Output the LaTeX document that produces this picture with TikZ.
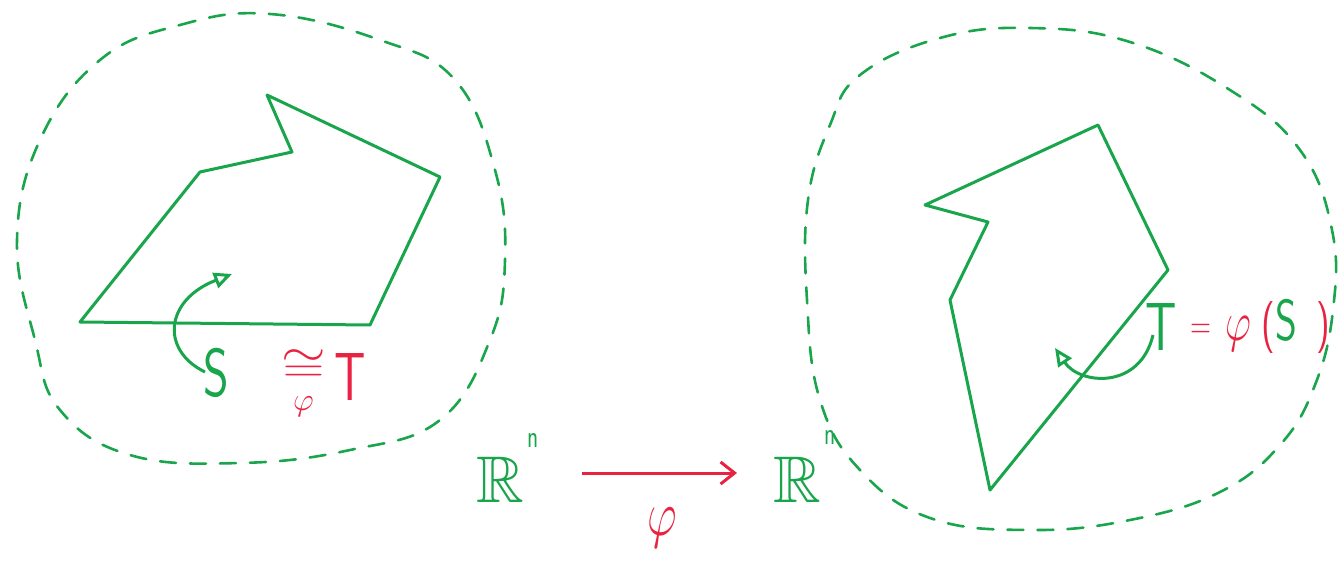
\RequirePackage{fix-cm}
\documentclass[tikz,border=0pt]{standalone}
\usepackage{amsmath,amssymb}
\usepackage{graphicx}
\usetikzlibrary{arrows.meta}
\definecolor{pen}{RGB}{25,165,75}
\definecolor{redpen}{RGB}{232,35,65}
\newcommand{\narrow}[1]{\scalebox{0.72}[1]{#1}}
\tikzset{
  blob/.style={pen, line width=2.6pt, dash pattern=on 16pt off 14pt, line cap=round},
  poly/.style={pen, line width=3pt, line join=round},
  curv/.style={pen, line width=3pt, -{Triangle[open,length=18pt,width=16pt,line width=3pt]}},
  lab/.style={inner sep=0pt, anchor=base west, font={\fontsize{#1}{#1}\selectfont\sffamily}},
  lab/.default=68,
}
\begin{document}
\begin{tikzpicture}[x=1pt,y=-1pt]
\useasboundingbox (0,0) rectangle (1339,567);
% left blob
\draw[blob] plot[smooth cycle, tension=0.7] coordinates {(100,60) (180,25) (270,14) (380,40) (455,80) (495,170) (505,260) (490,340) (440,420) (350,450) (240,463) (130,455) (60,410) (35,340) (17,240) (40,140)};
% right blob
\draw[blob] plot[smooth cycle, tension=0.7] coordinates {(860,75) (940,38) (1030,28) (1130,42) (1230,90) (1300,150) (1332,230) (1333,310) (1315,385) (1280,445) (1220,492) (1130,520) (1030,530) (930,518) (860,470) (820,400) (807,300) (808,200) (830,125)};
% left polygon
\coordinate (a1) at (80,322);
\coordinate (a2) at (370,325);
\coordinate (a3) at (440,177);
\coordinate (a4) at (267,95);
\coordinate (a5) at (292,152);
\coordinate (a6) at (200,172);
\draw[poly] (a1) -- (a2) -- (a3) -- (a4) -- (a5) -- (a6) -- cycle;
% right polygon
\coordinate (b1) at (1098,125);
\coordinate (b2) at (1168,270);
\coordinate (b3) at (990,490);
\coordinate (b4) at (950,300);
\coordinate (b5) at (988,222);
\coordinate (b6) at (925,205);
\draw[poly] (b1) -- (b2) -- (b3) -- (b4) -- (b5) -- (b6) -- cycle;
% left label
\node[lab, pen] (S1) at (203,396) {\narrow{S}};
\node[lab=46, redpen] (cong) at (281,382) {$\underset{\varphi}{\scalebox{1.25}[1]{$\cong$}}$};
\node[lab, redpen] (T1) at (334,400) {\narrow{T}};
\coordinate (c1s) at (205,372);
\coordinate (c1e) at (232,274);
\draw[curv] (c1s) .. controls (160,350) and (165,300) .. (c1e);
% right label
\node[lab, pen] (T2) at (1145,350) {\narrow{T}};
\node[lab=40, redpen] (eq) at (1190,338) {\narrow{=}};
\node[lab=56, redpen] (phi2) at (1225,340) {\narrow{$\varphi$}};
\node[lab=52, redpen] (lp) at (1261,340) {\narrow{(}};
\node[lab=58, pen] (S2) at (1275,340) {\narrow{S}};
\node[lab=52, redpen] (rp) at (1316,340) {\narrow{)}};
\coordinate (c2s) at (1153,335);
\coordinate (c2e) at (1055,348);
\draw[curv] (c2s) .. controls (1140,390) and (1080,385) .. (c2e);
% R^n and arrow
\node[lab=66, pen] (R1) at (476,502) {$\mathbb{R}$};
\node[lab=32, pen] (n1) at (527,447) {\narrow{n}};
\node[lab=66, pen] (R2) at (773,502) {$\mathbb{R}$};
\node[lab=32, pen] (n2) at (824,444) {\narrow{n}};
\draw[redpen, line width=3pt, -{Straight Barb[length=14pt,width=22pt,line width=3pt]}] (582,473) -- (737,473) coordinate (arrend);
\node[lab=64, redpen, anchor=base] (phi1) at (662,535) {\narrow{$\varphi$}};
\end{tikzpicture}
\end{document}
